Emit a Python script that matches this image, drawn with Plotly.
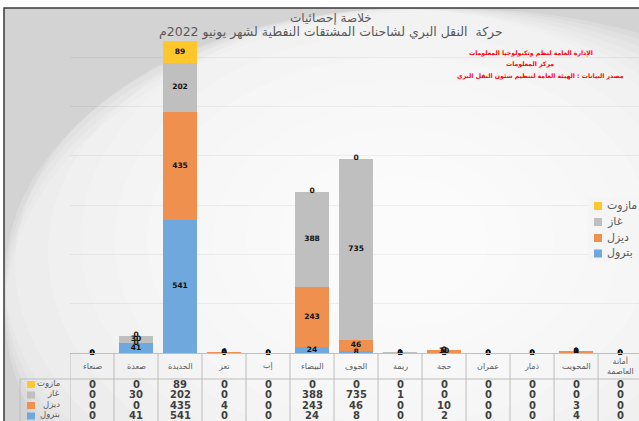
import plotly.graph_objects as go

# ---------------- data ----------------
categories = ['صنعاء', 'صعدة', 'الحديدة', 'تعز', 'إب', 'البيضاء', 'الجوف',
              'ريمة', 'حجة', 'عمران', 'ذمار', 'المحويت', 'أمانة العاصمة']
header_labels = ['صنعاء', 'صعدة', 'الحديدة', 'تعز', 'إب', 'البيضاء', 'الجوف',
                 'ريمة', 'حجة', 'عمران', 'ذمار', 'المحويت', 'أمانة<br>العاصمة']
series_names = ['بترول', 'ديزل', 'غاز', 'مازوت']
petrol = [0, 41, 541, 0, 0, 24, 8, 0, 2, 0, 0, 4, 0]
diesel = [0, 0, 435, 4, 0, 243, 46, 0, 10, 0, 0, 3, 0]
gas = [0, 30, 202, 0, 0, 388, 735, 1, 0, 0, 0, 0, 0]
mazut = [0, 0, 89, 0, 0, 0, 0, 0, 0, 0, 0, 0, 0]
series_values = [petrol, diesel, gas, mazut]
colors = ['#6fa8dc', '#f0904f', '#bfbfbf', '#ffc72c']

title1 = 'خلاصة إحصائيات'
title2 = 'حركة  النقل البري لشاحنات المشتقات النفطية لشهر يونيو 2022م'
notes = ['الإدارة العامة لنظم وتكنولوجيا المعلومات',
         'مركز المعلومات',
         'مصدر البيانات : الهيئة العامة لتنظيم شئون النقل البري']

# ---------------- geometry helpers ----------------
W, H = 639, 421
PL, PR, PT, PB = 70, 639, 8, 353


def px_x(x):
    return (x - PL) / (PR - PL)


def px_y(y):
    return (PB - y) / (PB - PT)


FONT = 'DejaVu Sans'
fig = go.Figure()

for name, vals, col in zip(series_names, series_values, colors):
    fig.add_trace(go.Bar(x=categories, y=vals, name=name,
                         marker=dict(color=col, line=dict(width=0)),
                         hoverinfo='skip', showlegend=False))

# data labels (centered in each segment; zeros at segment boundary)
lx, ly, lt = [], [], []
base = [0] * len(categories)
for vals in series_values:
    for i, v in enumerate(vals):
        lx.append(categories[i])
        ly.append(base[i] + v / 2)
        lt.append(f'<b>{v}</b>')
        base[i] += v
fig.add_trace(go.Scatter(x=lx, y=ly, text=lt, mode='text', showlegend=False,
                         textfont=dict(family=FONT, size=7.5, color='#111111'),
                         cliponaxis=False, hoverinfo='skip'))

shapes = []
annotations = []

# background frame + radial-ish gradient
shapes.append(dict(type='rect', xref='paper', yref='paper', layer='below',
                   x0=px_x(4), x1=px_x(660), y0=px_y(8), y1=px_y(440),
                   fillcolor='#d3d3d3', line=dict(color='#3a3a3a', width=1.5)))
cx, cy = 400, 240
for k in range(14):
    r = 470 - k * 30
    shapes.append(dict(type='circle', xref='paper', yref='paper', layer='below',
                       x0=px_x(max(cx - r * 1.1, 5)), x1=px_x(cx + r * 1.1),
                       y0=px_y(cy + r * 0.8), y1=px_y(max(cy - r * 0.8, 9)),
                       fillcolor='rgba(255,255,255,0.18)', line=dict(width=0)))

# table grid
tcol = '#bdbdbd'
for i in range(len(categories) + 1):
    shapes.append(dict(type='line', xref='x', yref='paper', x0=i - 0.5, x1=i - 0.5,
                       y0=0, y1=px_y(430), line=dict(color=tcol, width=1)))
shapes.append(dict(type='line', xref='x', yref='paper', x0=-0.5, x1=len(categories),
                   y0=px_y(379), y1=px_y(379), line=dict(color=tcol, width=1)))
shapes.append(dict(type='line', xref='paper', yref='paper', x0=px_x(20), x1=0,
                   y0=px_y(379), y1=px_y(379), line=dict(color=tcol, width=1)))
shapes.append(dict(type='line', xref='paper', yref='paper', x0=px_x(20), x1=px_x(20),
                   y0=px_y(379), y1=px_y(430), line=dict(color=tcol, width=1)))

# header names
for i, lab in enumerate(header_labels):
    annotations.append(dict(xref='x', yref='paper', x=i, y=px_y(366), text=lab,
                            showarrow=False, font=dict(family=FONT, size=8, color='#595959'),
                            xanchor='center', yanchor='middle'))

# table rows (top to bottom: mazut, gas, diesel, petrol)
row_y = [384, 394.5, 405, 415.5]
row_order = [3, 2, 1, 0]
for ry, si in zip(row_y, row_order):
    shapes.append(dict(type='rect', xref='paper', yref='paper',
                       x0=px_x(27), x1=px_x(35), y0=px_y(ry - 3), y1=px_y(ry + 4),
                       fillcolor=colors[si], line=dict(width=0)))
    annotations.append(dict(xref='paper', yref='paper', x=px_x(62), y=px_y(ry - 1.5),
                            text=series_names[si], showarrow=False, xanchor='right',
                            yanchor='middle', font=dict(family=FONT, size=8.5, color='#595959')))
    for i, v in enumerate(series_values[si]):
        annotations.append(dict(xref='x', yref='paper', x=i, y=px_y(ry), text=f'<b>{v}</b>',
                                showarrow=False, xanchor='center', yanchor='middle',
                                font=dict(family=FONT, size=10, color='#404040')))

# legend on the right (top to bottom: mazut, gas, diesel, petrol), cut by the edge as in the source
shapes.append(dict(type='rect', xref='paper', yref='paper',
                   x0=px_x(588), x1=px_x(660), y0=px_y(198), y1=px_y(262),
                   fillcolor='rgba(244,244,244,0.85)', line=dict(width=0)))
leg_y = [206, 222, 238, 253.5]
for ly_, si in zip(leg_y, row_order):
    shapes.append(dict(type='rect', xref='paper', yref='paper',
                       x0=px_x(594), x1=px_x(602), y0=px_y(ly_ - 4), y1=px_y(ly_ + 4),
                       fillcolor=colors[si], line=dict(width=0)))
    annotations.append(dict(xref='paper', yref='paper', x=px_x(605), y=px_y(ly_ - 1),
                            text=series_names[si], showarrow=False, xanchor='left',
                            yanchor='middle', font=dict(family=FONT, size=11, color='#595959')))

# titles
annotations.append(dict(xref='paper', yref='paper', x=px_x(331), y=px_y(18), text=title1,
                        showarrow=False, xanchor='center', yanchor='middle',
                        font=dict(family=FONT, size=12, color='#595959')))
annotations.append(dict(xref='paper', yref='paper', x=px_x(331), y=px_y(32), text=title2,
                        showarrow=False, xanchor='center', yanchor='middle',
                        font=dict(family=FONT, size=12.5, color='#595959')))
for txt, ny, nx in zip(notes, [53, 64, 76], [531, 530, 540]):
    annotations.append(dict(xref='paper', yref='paper', x=px_x(nx), y=px_y(ny), text=f'<b>{txt}</b>',
                            showarrow=False, xanchor='center', yanchor='middle',
                            font=dict(family=FONT, size=6.2, color='#ff0000')))

fig.update_layout(
    width=W, height=H,
    margin=dict(l=PL, r=W - PR, t=PT, b=H - PB),
    barmode='stack', bargap=0.24,
    paper_bgcolor='white', plot_bgcolor='rgba(0,0,0,0)',
    font=dict(family=FONT, color='#595959'),
    xaxis=dict(type='category', range=[-0.5, 12.43], showticklabels=False, ticks='',
               showgrid=False, showline=True, linecolor='#bfbfbf', fixedrange=True),
    yaxis=dict(range=[0, 1400], dtick=200, showticklabels=False, ticks='',
               showgrid=True, gridcolor='rgba(0,0,0,0.05)', zeroline=False, fixedrange=True),
    shapes=shapes, annotations=annotations,
    showlegend=False,
)

fig.write_html('out.html', config={'displayModeBar': False},
               post_script="document.body.style.margin='0';document.body.style.overflow='hidden';")
